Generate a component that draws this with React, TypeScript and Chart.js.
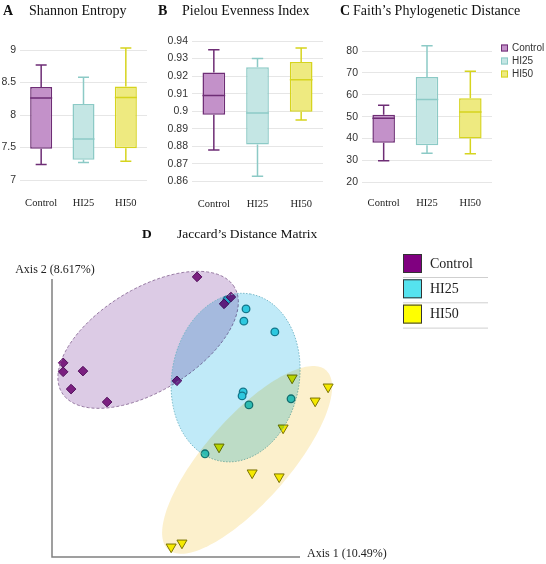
import React, { useEffect, useRef } from 'react';
import { Chart, registerables } from 'chart.js';

Chart.register(...registerables);

// ---- Alpha diversity: box plot summaries per group ----
const groups = ['Control', 'HI25', 'HI50'];

const shannonMin = [7.24, 7.27, 7.29];
const shannonQ1 = [7.48, 7.31, 7.49];
const shannonMedian = [8.26, 7.63, 8.27];
const shannonQ3 = [8.43, 8.17, 8.44];
const shannonMax = [8.77, 8.58, 9.03];
const shannonTicks = [7, 9, 0.5];

const pielouMin = [0.878, 0.863, 0.895];
const pielouQ1 = [0.898, 0.881, 0.8997];
const pielouMedian = [0.909, 0.899, 0.918];
const pielouQ3 = [0.922, 0.925, 0.928];
const pielouMax = [0.935, 0.930, 0.936];
const pielouTicks = [0.86, 0.94, 0.01];

const faithMin = [29.8, 33.3, 33.0];
const faithQ1 = [38.1, 36.9, 40.0];
const faithMedian = [49.3, 57.8, 52.1];
const faithQ3 = [50.9, 68.1, 58.4];
const faithMax = [55.2, 82.4, 70.7];
const faithTicks = [20, 80, 10];

// ---- Beta diversity: Jaccard PCoA coordinates (Axis 1, Axis 2) ----
const controlAxis1 = [0.053, 0.147, 0.128, -0.319, -0.319, -0.264, -0.297, -0.197, -0.003];
const controlAxis2 = [0.323, 0.267, 0.248, 0.084, 0.059, 0.061, 0.011, -0.025, 0.034];
const hi25Axis1 = [0.136, 0.189, 0.183, 0.269, 0.181, 0.178, 0.197, 0.314, 0.075];
const hi25Axis2 = [0.259, 0.234, 0.200, 0.170, 0.003, -0.008, -0.033, -0.016, -0.169];
const hi50Axis1 = [0.317, 0.417, 0.381, 0.292, 0.114, 0.206, 0.281, -0.019, 0.011];
const hi50Axis2 = [0.042, 0.017, -0.022, -0.097, -0.150, -0.222, -0.233, -0.428, -0.417];

// confidence ellipses: centre, semi-axes and tilt (degrees) per group
const ellipseCenterX = [-0.083, 0.160, 0.192];
const ellipseCenterY = [0.148, 0.043, -0.186];
const ellipseSemiMajor = [0.281, 0.236, 0.332];
const ellipseSemiMinor = [0.142, 0.177, 0.117];
const ellipseAngle = [31.6, 79.9, 48.7];

const axis1Label = 'Axis 1 (10.49%)';
const axis2Label = 'Axis 2 (8.617%)';

// ---- styling ----
const boxFill = ['#c391c9', '#c4e6e4', '#eeea80'];
const boxStroke = ['#6e2d75', '#8ccac6', '#d6d41e'];
const ellipseFill = ['#dccbe5', '#c0eaf8', '#fcf0cc'];
const ellipseStroke = ['#8c6d98', '#6fb3c4', null];
const ellipseDash = [[3, 2], [1.5, 1.5], []];
const legendFill = ['#800080', '#55e3ef', '#ffff00'];

const SERIF = "'Liberation Serif', 'Times New Roman', serif";
const SANS = "'Liberation Sans', Arial, sans-serif";

// plain number labels: 9, 8.5, 0.9, 0.94 ...
const formatTick = (v: any) => String(Number(Number(v).toFixed(4)));

// whiskers, caps and median drawn over the floating [Q1, Q3] bars
const boxWhiskerPlugin = {
  id: 'boxWhiskers',
  afterDatasetsDraw(chart: any) {
    const ctx = chart.ctx;
    const ys = chart.scales.y;
    chart.data.datasets.forEach((ds: any, di: number) => {
      const meta = chart.getDatasetMeta(di);
      meta.data.forEach((bar: any, i: number) => {
        const v = ds.data[i];
        if (!v) return;
        const { x, width } = bar.getProps(['x', 'width'], true);
        const half = width / 2;
        const cap = width / 4;
        const yMin = ys.getPixelForValue(ds.stats.min);
        const yMax = ys.getPixelForValue(ds.stats.max);
        const yMed = ys.getPixelForValue(ds.stats.median);
        const yQ1 = ys.getPixelForValue(v[0]);
        const yQ3 = ys.getPixelForValue(v[1]);
        ctx.save();
        ctx.strokeStyle = ds.borderColor;
        ctx.lineWidth = 1.5;
        ctx.beginPath();
        ctx.moveTo(x, yQ3); ctx.lineTo(x, yMax);
        ctx.moveTo(x - cap, yMax); ctx.lineTo(x + cap, yMax);
        ctx.moveTo(x, yQ1); ctx.lineTo(x, yMin);
        ctx.moveTo(x - cap, yMin); ctx.lineTo(x + cap, yMin);
        ctx.moveTo(x - half, yMed); ctx.lineTo(x + half, yMed);
        ctx.stroke();
        ctx.restore();
      });
    });
  },
};

// small square legend to the right of the plot area
const sideLegendPlugin = {
  id: 'sideLegend',
  afterDraw(chart: any) {
    const opts = chart.options.plugins.sideLegend;
    if (!opts || !opts.display) return;
    const ctx = chart.ctx;
    const { right, top } = chart.chartArea;
    ctx.save();
    ctx.font = `10px ${SANS}`;
    ctx.textBaseline = 'middle';
    chart.data.datasets.forEach((ds: any, i: number) => {
      const cy = top - 3 + i * 13;
      const bx = right + 9;
      ctx.fillStyle = ds.backgroundColor;
      ctx.fillRect(bx, cy - 3.5, 7, 7);
      ctx.strokeStyle = ds.borderColor;
      ctx.lineWidth = 1;
      ctx.strokeRect(bx + 0.5, cy - 3, 6, 6);
      ctx.fillStyle = '#333';
      ctx.fillText(ds.label, bx + 11, cy);
    });
    ctx.restore();
  },
};

type BoxSpec = {
  min: number[]; q1: number[]; median: number[]; q3: number[]; max: number[];
  ticks: number[];
  yWidth: number; xHeight: number;
  padTop: number; padRight: number; labelPad: number;
  legend: boolean;
};

function BoxPanel({ spec, left, width, height }: { spec: BoxSpec; left: number; width: number; height: number }) {
  const ref = useRef<HTMLCanvasElement | null>(null);
  useEffect(() => {
    if (!ref.current) return;
    const datasets = groups.map((g, i) => ({
      label: g,
      data: groups.map((_, j) => (j === i ? [spec.q1[i], spec.q3[i]] : null)),
      stats: { min: spec.min[i], median: spec.median[i], max: spec.max[i] },
      backgroundColor: boxFill[i],
      borderColor: boxStroke[i],
      borderWidth: 1.5,
      borderSkipped: false,
      grouped: false,
      barPercentage: 0.52,
      categoryPercentage: 1,
    }));
    const chart = new Chart(ref.current, {
      type: 'bar',
      data: { labels: groups, datasets } as any,
      options: {
        responsive: false,
        animation: false,
        events: [],
        layout: { padding: { top: spec.padTop, right: spec.padRight, left: 0, bottom: 0 } },
        plugins: {
          legend: { display: false },
          tooltip: { enabled: false },
          sideLegend: { display: spec.legend },
        } as any,
        scales: {
          x: {
            grid: { display: false },
            border: { display: false },
            ticks: { color: '#222', font: { family: SERIF, size: 10.5 }, padding: spec.labelPad, maxRotation: 0 },
            afterFit: (s: any) => { s.height = spec.xHeight; },
          },
          y: {
            min: spec.ticks[0],
            max: spec.ticks[1],
            grid: { color: '#e6e6e6', drawTicks: false },
            border: { display: false },
            ticks: {
              stepSize: spec.ticks[2],
              color: '#333',
              font: { family: SANS, size: 10.5 },
              padding: 4,
              callback: formatTick,
            },
            afterFit: (s: any) => { s.width = spec.yWidth; },
          },
        },
      },
      plugins: [boxWhiskerPlugin, sideLegendPlugin],
    });
    return () => chart.destroy();
  }, []);
  return (
    <canvas ref={ref} width={width} height={height}
      style={{ position: 'absolute', left, top: 0, width, height }} />
  );
}

// translucent group ellipses, multiplied over each other and over the points
const ellipsePlugin = {
  id: 'groupEllipses',
  afterDatasetsDraw(chart: any) {
    const ctx = chart.ctx;
    const xs = chart.scales.x;
    const ys = chart.scales.y;
    groups.forEach((_, i) => {
      const th = (ellipseAngle[i] * Math.PI) / 180;
      const a = ellipseSemiMajor[i];
      const b = ellipseSemiMinor[i];
      ctx.save();
      ctx.beginPath();
      const n = 160;
      for (let k = 0; k <= n; k++) {
        const t = (k / n) * Math.PI * 2;
        const dx = a * Math.cos(t);
        const dy = b * Math.sin(t);
        const px = xs.getPixelForValue(ellipseCenterX[i] + dx * Math.cos(th) - dy * Math.sin(th));
        const py = ys.getPixelForValue(ellipseCenterY[i] + dx * Math.sin(th) + dy * Math.cos(th));
        if (k === 0) ctx.moveTo(px, py); else ctx.lineTo(px, py);
      }
      ctx.closePath();
      ctx.globalCompositeOperation = 'multiply';
      ctx.fillStyle = ellipseFill[i];
      ctx.fill();
      ctx.globalCompositeOperation = 'source-over';
      const stroke = ellipseStroke[i];
      if (stroke) {
        ctx.setLineDash(ellipseDash[i]);
        ctx.strokeStyle = stroke;
        ctx.lineWidth = 0.9;
        ctx.stroke();
      }
      ctx.restore();
    });
  },
};

// L-shaped axes with their titles, plus the boxed legend
const ordinationFramePlugin = {
  id: 'ordinationFrame',
  afterDraw(chart: any) {
    const ctx = chart.ctx;
    const { left, top, bottom } = chart.chartArea;
    ctx.save();
    ctx.strokeStyle = '#808080';
    ctx.lineWidth = 1.5;
    ctx.beginPath();
    ctx.moveTo(left, top + 19);
    ctx.lineTo(left, bottom);
    ctx.lineTo(left + 248, bottom);
    ctx.stroke();

    ctx.fillStyle = '#222';
    ctx.font = `12px ${SERIF}`;
    ctx.textBaseline = 'alphabetic';
    ctx.textAlign = 'center';
    ctx.fillText(axis2Label, left + 3, top + 13);
    ctx.textAlign = 'left';
    ctx.textBaseline = 'middle';
    ctx.fillText(axis1Label, left + 255, bottom - 3);

    // legend
    ctx.font = `14px ${SERIF}`;
    chart.data.datasets.forEach((ds: any, i: number) => {
      const y0 = 34 + i * 25.3;
      ctx.fillStyle = legendFill[i];
      ctx.fillRect(403, y0, 19, 19);
      ctx.strokeStyle = '#333';
      ctx.lineWidth = 1;
      ctx.strokeRect(403.5, y0 + 0.5, 18, 18);
      ctx.fillStyle = '#222';
      ctx.fillText(ds.label, 430, y0 + 10);
      ctx.strokeStyle = '#cfcfcf';
      ctx.beginPath();
      ctx.moveTo(403, y0 + 23.5);
      ctx.lineTo(488, y0 + 23.5);
      ctx.stroke();
    });
    ctx.restore();
  },
};

function toPoints(xs: number[], ys: number[]) {
  return xs.map((x, i) => ({ x, y: ys[i] }));
}

function OrdinationPanel() {
  const ref = useRef<HTMLCanvasElement | null>(null);
  useEffect(() => {
    if (!ref.current) return;
    const chart = new Chart(ref.current, {
      type: 'scatter',
      data: {
        datasets: [
          {
            label: 'Control',
            data: toPoints(controlAxis1, controlAxis2),
            pointStyle: 'rectRot',
            pointRadius: 4.8,
            backgroundColor: '#8f288f',
            borderColor: '#5c1063',
            borderWidth: 1,
          },
          {
            label: 'HI25',
            data: toPoints(hi25Axis1, hi25Axis2),
            pointStyle: 'circle',
            pointRadius: 3.8,
            backgroundColor: '#3cdae6',
            borderColor: '#17818f',
            borderWidth: 1.3,
          },
          {
            label: 'HI50',
            data: toPoints(hi50Axis1, hi50Axis2),
            pointStyle: 'triangle',
            pointRotation: 180,
            pointRadius: 5.8,
            backgroundColor: '#f8f800',
            borderColor: '#7d7a00',
            borderWidth: 1,
          },
        ],
      } as any,
      options: {
        responsive: false,
        animation: false,
        events: [],
        layout: { padding: { left: 52, right: 206, top: 40, bottom: 7 } },
        plugins: { legend: { display: false }, tooltip: { enabled: false } },
        scales: {
          x: { type: 'linear', display: false, min: -0.35, max: 0.45 },
          y: { type: 'linear', display: false, min: -0.456, max: 0.37 },
        },
      },
      plugins: [ellipsePlugin, ordinationFramePlugin],
    });
    return () => chart.destroy();
  }, []);
  return (
    <canvas ref={ref} width={546} height={344}
      style={{ position: 'absolute', left: 0, top: 220, width: 546, height: 344 }} />
  );
}

const shannonSpec: BoxSpec = {
  min: shannonMin, q1: shannonQ1, median: shannonMedian, q3: shannonQ3, max: shannonMax,
  ticks: shannonTicks, yWidth: 20, xHeight: 30, padTop: 50, padRight: 18, labelPad: 9, legend: false,
};
const pielouSpec: BoxSpec = {
  min: pielouMin, q1: pielouQ1, median: pielouMedian, q3: pielouQ3, max: pielouMax,
  ticks: pielouTicks, yWidth: 29, xHeight: 28.5, padTop: 41, padRight: 17, labelPad: 8, legend: false,
};
const faithSpec: BoxSpec = {
  min: faithMin, q1: faithQ1, median: faithMedian, q3: faithQ3, max: faithMax,
  ticks: faithTicks, yWidth: 22, xHeight: 27.7, padTop: 51, padRight: 54, labelPad: 7, legend: true,
};

function PanelTitle({ letter, text, letterX, textX, top, size = 14 }:
  { letter: string; text: string; letterX: number; textX: number; top: number; size?: number }) {
  const base: React.CSSProperties = {
    position: 'absolute', top, fontFamily: SERIF, fontSize: size, color: '#111',
    whiteSpace: 'nowrap', lineHeight: 'normal',
  };
  return (
    <>
      <div style={{ ...base, left: letterX, fontWeight: 'bold' }}>{letter}</div>
      <div style={{ ...base, left: textX }}>{text}</div>
    </>
  );
}

export default function App() {
  return (
    <div style={{ position: 'absolute', left: 0, top: 0, width: 546, height: 564, background: '#fff', overflow: 'hidden' }}>
      <BoxPanel spec={shannonSpec} left={0} width={165} height={210} />
      <BoxPanel spec={pielouSpec} left={163} width={177} height={210} />
      <BoxPanel spec={faithSpec} left={340} width={206} height={210} />
      <OrdinationPanel />
      <PanelTitle letter="A" text="Shannon Entropy" letterX={3} textX={29} top={3} />
      <PanelTitle letter="B" text="Pielou Evenness Index" letterX={158} textX={182} top={3} />
      <PanelTitle letter="C" text="Faith’s Phylogenetic Distance" letterX={340} textX={353} top={3} />
      <PanelTitle letter="D" text="Jaccard’s Distance Matrix" letterX={142} textX={177} top={226} size={13.5} />
    </div>
  );
}
